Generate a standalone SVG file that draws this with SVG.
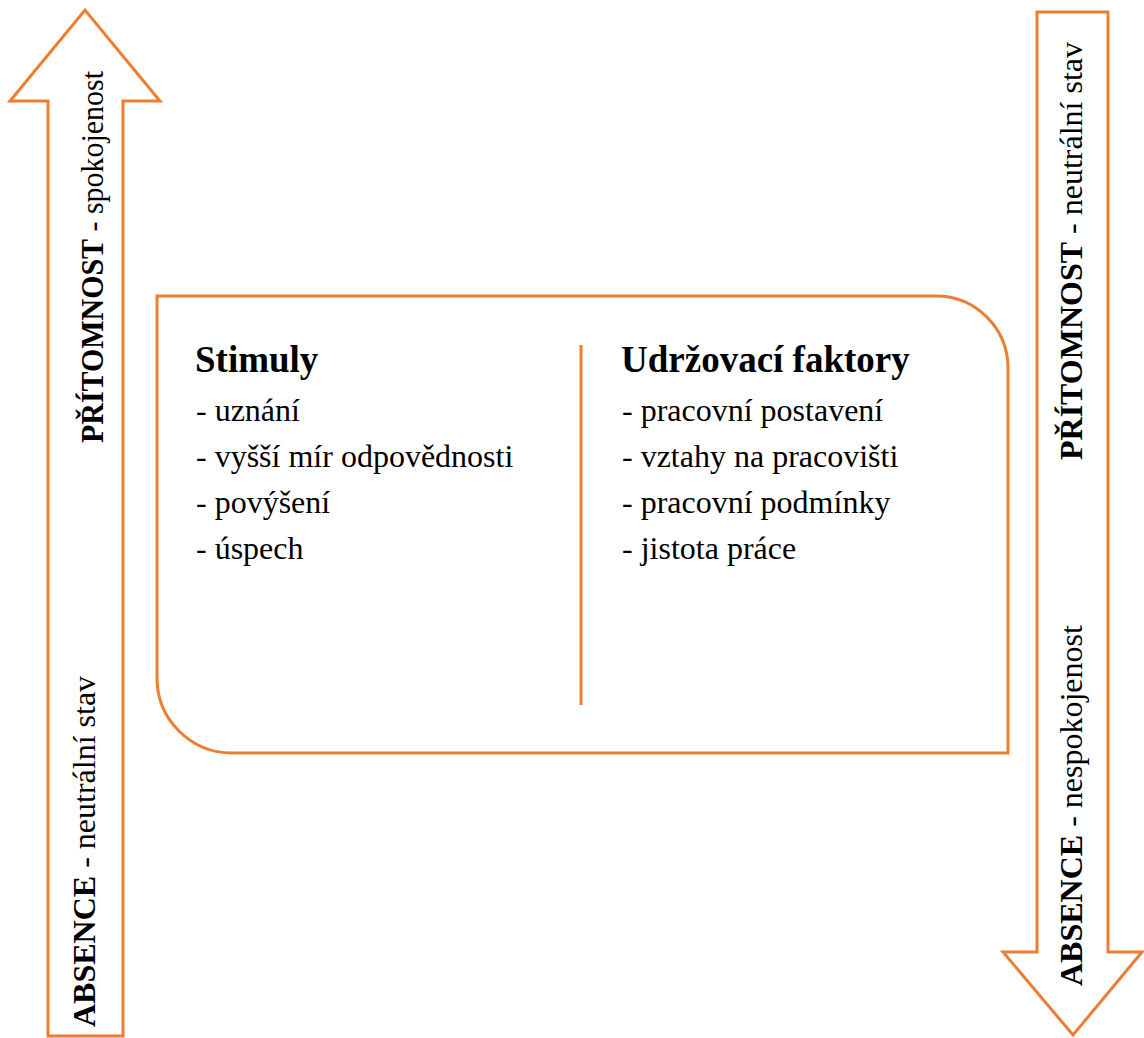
<svg xmlns="http://www.w3.org/2000/svg" width="1144" height="1038" viewBox="0 0 1144 1038">
<style>
.sh{fill:#fff;stroke:#ED7D31;stroke-width:3;stroke-linejoin:miter}
.ln{stroke:#ED7D31;stroke-width:3;fill:none}
text{font-family:'Liberation Serif','Times New Roman',serif;fill:#000}
.h{font-size:37px;font-weight:bold}
.i{font-size:32px}
.v{font-size:32px}
.b{font-weight:bold}
</style>
<rect width="1144" height="1038" fill="#fff"/>
<g id="arrow-left">
<polygon class="sh" points="48,1036 48,101 10,101 85,10 160,101 123,101 123,1036"/>
<text class="v" transform="translate(103,443) rotate(-90)" textLength="372" lengthAdjust="spacingAndGlyphs"><tspan class="b">PŘÍTOMNOST</tspan> - spokojenost</text>
<text class="v" transform="translate(95,1027) rotate(-90)"><tspan class="b">ABSENCE</tspan> - neutrální stav</text>
</g>
<g id="arrow-right">
<polygon class="sh" points="1037,12 1108,12 1108,952 1142,952 1073,1035 1003,952 1037,952"/>
<text class="v" transform="translate(1082,460) rotate(-90)"><tspan class="b">PŘÍTOMNOST</tspan> - neutrální stav</text>
<text class="v" transform="translate(1082,986) rotate(-90)"><tspan class="b">ABSENCE</tspan> - nespokojenost</text>
</g>
<g id="box">
<path class="sh" d="M157,296 H936 A72,72 0 0 1 1008,368 V753 H232 A75,75 0 0 1 157,678 Z"/>
</g>
<g id="connectors">
<line class="ln" x1="581" y1="345" x2="581" y2="705"/>
</g>
<g id="stimuly">
<text class="h" x="195" y="372">Stimuly</text>
<text class="i" x="196" y="421">- uznání</text>
<text class="i" x="196" y="467">- vyšší mír odpovědnosti</text>
<text class="i" x="196" y="513">- povýšení</text>
<text class="i" x="196" y="559">- úspech</text>
</g>
<g id="udrzovaci">
<text class="h" x="621" y="372">Udržovací faktory</text>
<text class="i" x="622" y="421">- pracovní postavení</text>
<text class="i" x="622" y="467">- vztahy na pracovišti</text>
<text class="i" x="622" y="513">- pracovní podmínky</text>
<text class="i" x="622" y="559">- jistota práce</text>
</g>
</svg>
